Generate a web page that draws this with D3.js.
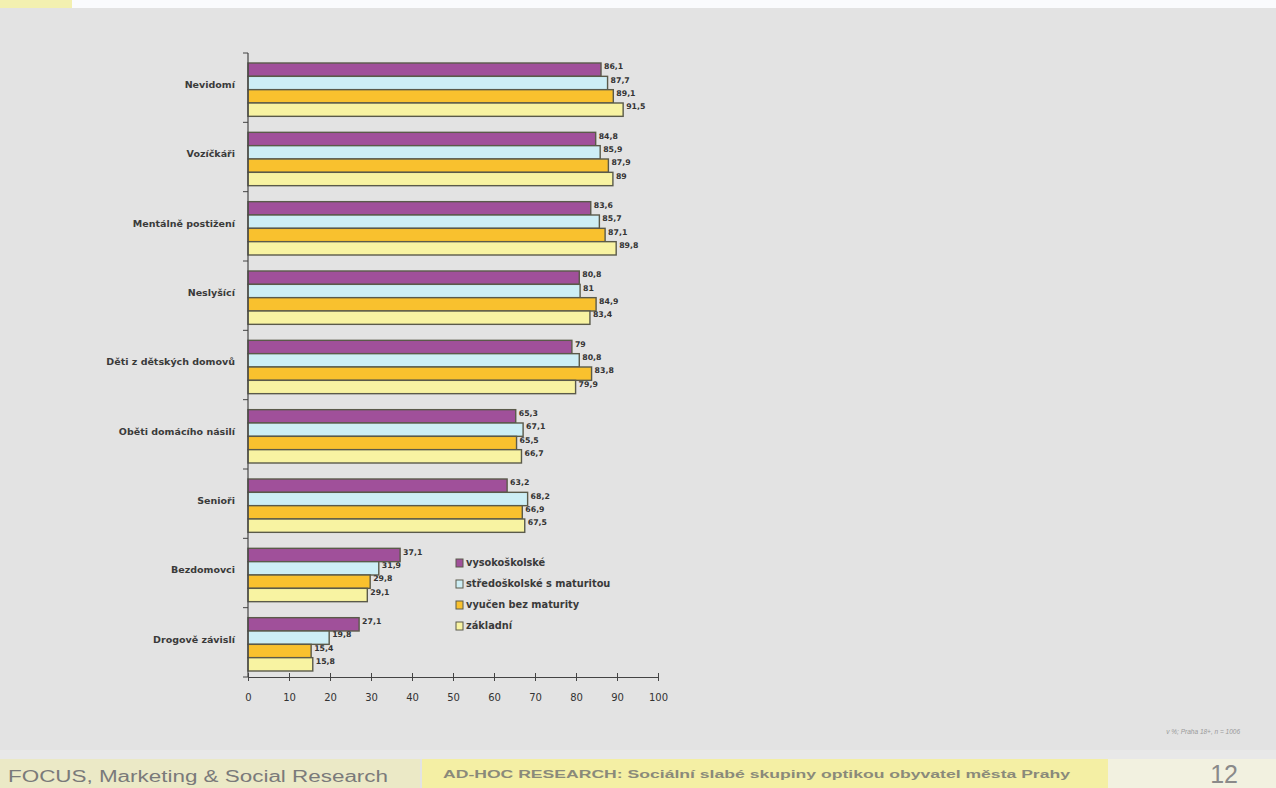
<!DOCTYPE html>
<html><head><meta charset="utf-8">
<script src="https://cdn.jsdelivr.net/npm/d3@7/dist/d3.min.js"></script>
<style>body{margin:0;background:#e3e3e3;}svg{display:block;}</style>
</head><body>
<script>
const categories = ["Nevidomí","Vozíčkáři","Mentálně postižení","Neslyšící","Děti z dětských domovů","Oběti domácího násilí","Senioři","Bezdomovci","Drogově závislí"];
const seriesNames = ["vysokoškolské","středoškolské s maturitou","vyučen bez maturity","základní"];
const vysokoskolske = [86.1,84.8,83.6,80.8,79,65.3,63.2,37.1,27.1];
const stredoskolske = [87.7,85.9,85.7,81,80.8,67.1,68.2,31.9,19.8];
const vyucen = [89.1,87.9,87.1,84.9,83.8,65.5,66.9,29.8,15.4];
const zakladni = [91.5,89,89.8,83.4,79.9,66.7,67.5,29.1,15.8];
const xTicks = [0,10,20,30,40,50,60,70,80,90,100];
const colors = ["#a0509a","#cdeef5","#f9c12e","#f8f3a2"];
const seriesValues = [vysokoskolske, stredoskolske, vyucen, zakladni];

const W=1276,H=788;
const F="DejaVu Sans, Verdana, sans-serif";
const svg=d3.select("body").append("svg").attr("width",W).attr("height",H);
svg.append("rect").attr("width",W).attr("height",H).attr("fill","#e3e3e3");
// top band
svg.append("rect").attr("x",0).attr("y",0).attr("width",W).attr("height",8).attr("fill","#fafbfd");
svg.append("rect").attr("x",0).attr("y",0).attr("width",72).attr("height",8).attr("fill","#f3f0b0");

const x=d3.scaleLinear().domain([0,100]).range([248,658]);
const y=d3.scaleBand().domain(categories).range([53,677]).paddingInner(0).paddingOuter(0);
const yInner=d3.scaleBand().domain(d3.range(4)).range([10,y.bandwidth()-6]).padding(0);

const g=svg.append("g");
categories.forEach((c,i)=>{
  seriesValues.forEach((vals,s)=>{
    const v=vals[i];
    const by=y(c)+yInner(s);
    g.append("rect").attr("x",x(0)).attr("y",by).attr("width",x(v)-x(0)).attr("height",yInner.bandwidth())
      .attr("fill",colors[s]).attr("stroke","#5a5a4a").attr("stroke-width",1.4);
    g.append("text").attr("x",x(v)+3).attr("y",by+yInner.bandwidth()/2-1).attr("dy","0.1em")
      .attr("font-family",F).attr("font-size",7.8).attr("font-weight","bold").attr("fill","#333")
      .text(String(v).replace(".",","));
  });
});

// y axis
const yAxis=svg.append("g").attr("transform",`translate(${x(0)},0)`);
yAxis.append("line").attr("x1",0).attr("x2",0).attr("y1",53).attr("y2",677).attr("stroke","#444").attr("stroke-width",1.2);
const yTickPos=d3.range(categories.length+1).map(i=>53+i*y.bandwidth());
yTickPos.forEach(p=>yAxis.append("line").attr("x1",-5).attr("x2",0).attr("y1",p).attr("y2",p).attr("stroke","#444"));
categories.forEach(c=>{
  yAxis.append("text").attr("x",-13).attr("y",y(c)+y.bandwidth()/2-3).attr("text-anchor","end").attr("dy","0.35em")
   .attr("font-family",F).attr("font-size",9.5).attr("font-weight","bold").attr("fill","#3a3a3a").text(c);
});

// x axis
const xAxis=d3.axisBottom(x).tickValues(xTicks).tickSize(4).tickPadding(13).tickSizeOuter(0);
const xg=svg.append("g").attr("transform","translate(0,677)").call(xAxis);
xg.select(".domain").attr("stroke","#444").attr("stroke-width",1.2);
xg.selectAll(".tick line").attr("stroke","#444").attr("y1",-4).attr("y2",4);
xg.selectAll("text").attr("font-family",F).attr("font-size",10).attr("fill","#333");

// legend
const lg=svg.append("g").attr("transform","translate(456,559)");
seriesNames.forEach((n,i)=>{
  lg.append("rect").attr("x",0).attr("y",i*21).attr("width",7).attr("height",8).attr("fill",colors[i]).attr("stroke","#5a5a4a").attr("stroke-width",1);
  lg.append("text").attr("x",10).attr("y",i*21+4).attr("dy","0.35em").attr("font-family",F)
    .attr("font-size",9.8).attr("font-weight","bold").attr("fill","#3a3a3a").text(n);
});

// note
svg.append("text").attr("x",1240).attr("y",734).attr("text-anchor","end").attr("font-family","Liberation Sans, Arial, sans-serif")
  .attr("font-size",6.5).attr("font-style","italic").attr("fill","#999").text("v %; Praha 18+, n = 1006");

// footer
svg.append("rect").attr("x",0).attr("y",750).attr("width",W).attr("height",9).attr("fill","#e8e8e8");
svg.append("rect").attr("x",0).attr("y",759).attr("width",420).attr("height",29).attr("fill","#ebe9c6");
svg.append("rect").attr("x",422).attr("y",759).attr("width",686).attr("height",29).attr("fill","#f4efa4");
svg.append("rect").attr("x",1108).attr("y",759).attr("width",168).attr("height",29).attr("fill","#f2f1e0");
svg.append("text").attr("x",8).attr("y",782).attr("font-family","Liberation Sans, Arial, sans-serif")
  .attr("font-size",16).attr("textLength",380).attr("lengthAdjust","spacingAndGlyphs").attr("fill","#7a7a7a").text("FOCUS, Marketing & Social Research");
svg.append("text").attr("x",443).attr("y",778).attr("font-family","Liberation Sans, Arial, sans-serif")
  .attr("font-size",10.5).attr("font-weight","bold").attr("textLength",627).attr("lengthAdjust","spacingAndGlyphs").attr("fill","#8a8a7a").text("AD-HOC RESEARCH: Sociální slabé skupiny optikou obyvatel města Prahy");
svg.append("text").attr("x",1238).attr("y",783).attr("text-anchor","end").attr("font-family","Liberation Sans Narrow, Liberation Sans, sans-serif")
  .attr("font-size",25).attr("fill","#8a8a8a").text("12");
</script>
</body></html>
